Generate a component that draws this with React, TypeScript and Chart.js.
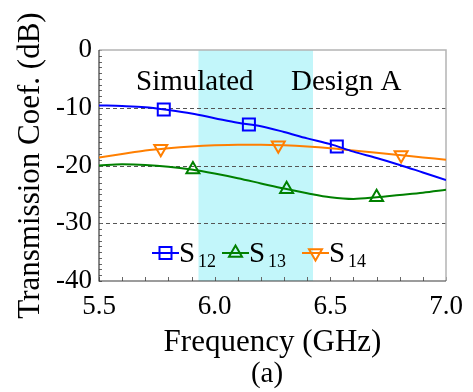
import React, { useEffect, useRef } from "react";
import { Chart, registerables } from "chart.js";

Chart.register(...registerables);

// ---------- data ----------
const FREQ = [5.5, 5.6, 5.7, 5.8, 5.9, 6.0, 6.1, 6.2, 6.3, 6.4, 6.5, 6.6, 6.7, 6.8, 6.9, 7.0];
const S12 = [-9.6, -9.7, -9.9, -10.4, -11.0, -11.8, -12.6, -13.2, -14.2, -15.3, -16.3, -17.6, -18.7, -19.9, -21.2, -22.5];
const S13 = [-20.0, -19.8, -19.9, -20.2, -20.7, -21.4, -22.2, -23.1, -24.0, -24.8, -25.5, -25.8, -25.5, -25.1, -24.7, -24.2];
const S14 = [-18.6, -18.0, -17.4, -17.0, -16.7, -16.5, -16.4, -16.4, -16.5, -16.7, -17.0, -17.4, -17.8, -18.2, -18.6, -19.0];

const S12_MARK_F = [5.78, 6.148, 6.528];
const S12_MARK = [-10.3, -12.9, -16.7];
const S13_MARK_F = [5.906, 6.311, 6.7];
const S13_MARK = [-20.7, -24.1, -25.5];
const S14_MARK_F = [5.767, 6.275, 6.806];
const S14_MARK = [-17.1, -16.5, -18.2];

const X_TICKS = [5.5, 6.0, 6.5, 7.0];
const Y_TICKS = [0, -10, -20, -30, -40];
const GRID_VALUES = [-10, -20, -30];
const BAND = [5.93, 6.425];

const SERIES_NAMES = ["S", "S", "S"];
const SERIES_SUBS = ["12", "13", "14"];
const ANNOTATIONS = ["Simulated", "Design A"];
const X_TITLE = "Frequency (GHz)";
const Y_TITLE = "Transmission Coef. (dB)";
const CAPTION = "(a)";

const COLORS = ["#0000ff", "#008000", "#ff7f00"];
const FONT = "'Liberation Serif', 'Times New Roman', serif";

function pts(xs: number[], ys: number[]) {
  return xs.map((x, i) => ({ x, y: ys[i] }));
}

function drawMarker(ctx: CanvasRenderingContext2D, kind: number, x: number, y: number, color: string) {
  ctx.save();
  ctx.strokeStyle = color;
  ctx.lineWidth = 2;
  ctx.beginPath();
  if (kind === 0) {
    ctx.rect(x - 6, y - 6, 12, 12);
  } else if (kind === 1) {
    const r = 7.5;
    ctx.moveTo(x, y - r);
    ctx.lineTo(x + r * 0.866, y + r * 0.5);
    ctx.lineTo(x - r * 0.866, y + r * 0.5);
    ctx.closePath();
  } else {
    const r = 7.5;
    ctx.moveTo(x, y + r);
    ctx.lineTo(x + r * 0.866, y - r * 0.5);
    ctx.lineTo(x - r * 0.866, y - r * 0.5);
    ctx.closePath();
  }
  ctx.stroke();
  ctx.restore();
}

const decor = {
  id: "decor",
  beforeDraw(chart: any) {
    const { ctx, chartArea: a, scales } = chart;
    const x0 = scales.x.getPixelForValue(BAND[0]);
    const x1 = scales.x.getPixelForValue(BAND[1]);
    ctx.save();
    ctx.fillStyle = "#c2f6fa";
    ctx.fillRect(x0, a.top, x1 - x0, a.bottom - a.top);
    ctx.restore();
  },
  beforeDatasetsDraw(chart: any) {
    const { ctx, chartArea: a, scales } = chart;
    ctx.save();
    // dashed grid
    ctx.strokeStyle = "#555555";
    ctx.lineWidth = 1;
    ctx.setLineDash([4, 3]);
    GRID_VALUES.forEach((v) => {
      const y = Math.round(scales.y.getPixelForValue(v)) + 0.5;
      ctx.beginPath();
      ctx.moveTo(a.left, y);
      ctx.lineTo(a.right, y);
      ctx.stroke();
    });
    ctx.setLineDash([]);
    // minor ticks
    ctx.strokeStyle = "#666666";
    ctx.lineWidth = 1;
    for (let i = 0; i <= 15; i++) {
      const x = Math.round(scales.x.getPixelForValue(5.5 + i * 0.1)) + 0.5;
      ctx.beginPath();
      ctx.moveTo(x, a.bottom);
      ctx.lineTo(x, a.bottom - 4);
      ctx.stroke();
    }
    for (let v = -40; v <= 0; v++) {
      const y = Math.round(scales.y.getPixelForValue(v)) + 0.5;
      ctx.beginPath();
      ctx.moveTo(a.left, y);
      ctx.lineTo(a.left + 3, y);
      ctx.stroke();
    }
    // frame
    ctx.strokeStyle = "#b4b4b4";
    ctx.lineWidth = 1.5;
    ctx.beginPath();
    ctx.moveTo(a.left, a.top);
    ctx.lineTo(a.right, a.top);
    ctx.lineTo(a.right, a.bottom);
    ctx.stroke();
    ctx.strokeStyle = "#3a3a3a";
    ctx.lineWidth = 1.2;
    ctx.beginPath();
    ctx.moveTo(a.left, a.top);
    ctx.lineTo(a.left, a.bottom);
    ctx.lineTo(a.right, a.bottom);
    ctx.stroke();
    ctx.restore();
  },
  afterDatasetsDraw(chart: any) {
    const { ctx, chartArea: a } = chart;
    ctx.save();
    ctx.fillStyle = "#000000";
    ctx.textBaseline = "alphabetic";
    ctx.textAlign = "left";
    ctx.font = `29px ${FONT}`;
    ctx.fillText(ANNOTATIONS[0], a.left + 37, a.top + 40);
    ctx.fillText(ANNOTATIONS[1], a.left + 192, a.top + 40);

    // legend
    const starts = [53, 123, 203];
    const ly = a.top + 203;
    starts.forEach((s, i) => {
      const x = a.left + s;
      ctx.strokeStyle = COLORS[i];
      ctx.lineWidth = 2;
      ctx.beginPath();
      ctx.moveTo(x, ly);
      ctx.lineTo(x + 27, ly);
      ctx.stroke();
      drawMarker(ctx, i, x + 13.5, ly, COLORS[i]);
      ctx.fillStyle = "#000000";
      ctx.font = `29px ${FONT}`;
      ctx.fillText(SERIES_NAMES[i], x + 27, ly + 9);
      ctx.font = `18px ${FONT}`;
      ctx.fillText(SERIES_SUBS[i], x + 46, ly + 14);
    });

    // caption
    ctx.font = `29px ${FONT}`;
    ctx.textAlign = "center";
    ctx.fillText(CAPTION, a.left + 168, chart.height - 10);
    ctx.restore();
  },
};

export default function App() {
  const ref = useRef<HTMLCanvasElement>(null);
  useEffect(() => {
    if (!ref.current) return;
    const lineDs = (label: string, ys: number[], color: string) => ({
      label,
      data: pts(FREQ, ys),
      borderColor: color,
      backgroundColor: color,
      borderWidth: 2,
      pointRadius: 0,
      cubicInterpolationMode: "monotone" as const,
      fill: false,
    });
    const markDs = (label: string, xs: number[], ys: number[], color: string, style: string, rot: number, r: number) => ({
      label,
      data: pts(xs, ys),
      showLine: false,
      borderColor: color,
      backgroundColor: "rgba(0,0,0,0)",
      pointStyle: style,
      pointRotation: rot,
      pointRadius: r,
      pointBorderWidth: 2,
    });
    const chart = new Chart(ref.current, {
      type: "line",
      data: {
        datasets: [
          lineDs("S12", S12, COLORS[0]),
          lineDs("S13", S13, COLORS[1]),
          lineDs("S14", S14, COLORS[2]),
          markDs("S12m", S12_MARK_F, S12_MARK, COLORS[0], "rect", 0, 8.5),
          markDs("S13m", S13_MARK_F, S13_MARK, COLORS[1], "triangle", 0, 7.5),
          markDs("S14m", S14_MARK_F, S14_MARK, COLORS[2], "triangle", 180, 7.5),
        ] as any,
      },
      options: {
        responsive: false,
        animation: false,
        layout: { padding: { top: 50, right: 27, left: 0, bottom: 0 } },
        plugins: { legend: { display: false }, tooltip: { enabled: false } },
        scales: {
          x: {
            type: "linear",
            min: 5.5,
            max: 7.0,
            afterBuildTicks: (s: any) => {
              s.ticks = X_TICKS.map((v) => ({ value: v }));
            },
            afterFit: (s: any) => {
              s.height = 111;
              s.paddingLeft = 0;
              s.paddingRight = 0;
            },
            grid: { display: false, drawTicks: false },
            border: { display: false },
            ticks: {
              padding: 10,
              autoSkip: false,
              color: "#000000",
              font: { family: FONT, size: 27 },
              maxRotation: 0,
              callback: (v: any) => Number(v).toFixed(1),
            },
            title: {
              display: true,
              text: X_TITLE,
              color: "#000000",
              font: { family: FONT, size: 31 },
              padding: { top: 0, bottom: 31 },
            },
          },
          y: {
            type: "linear",
            min: -40,
            max: 0,
            afterBuildTicks: (s: any) => {
              s.ticks = Y_TICKS.map((v) => ({ value: v }));
            },
            afterFit: (s: any) => {
              s.width = 99;
              s.paddingTop = 0;
              s.paddingBottom = 0;
            },
            grid: { display: false, drawTicks: false },
            border: { display: false },
            ticks: {
              padding: 7,
              autoSkip: false,
              color: "#000000",
              font: { family: FONT, size: 27 },
              callback: (v: any) => String(v),
            },
            title: {
              display: true,
              text: Y_TITLE,
              color: "#000000",
              font: { family: FONT, size: 31 },
              padding: { top: 12, bottom: 0 },
            },
          },
        },
      },
      plugins: [decor],
    });
    return () => chart.destroy();
  }, []);
  return (
    <div style={{ position: "absolute", left: 0, top: 0, width: 473, height: 392, background: "#ffffff" }}>
      <canvas ref={ref} width={473} height={392} style={{ display: "block" }} />
    </div>
  );
}
